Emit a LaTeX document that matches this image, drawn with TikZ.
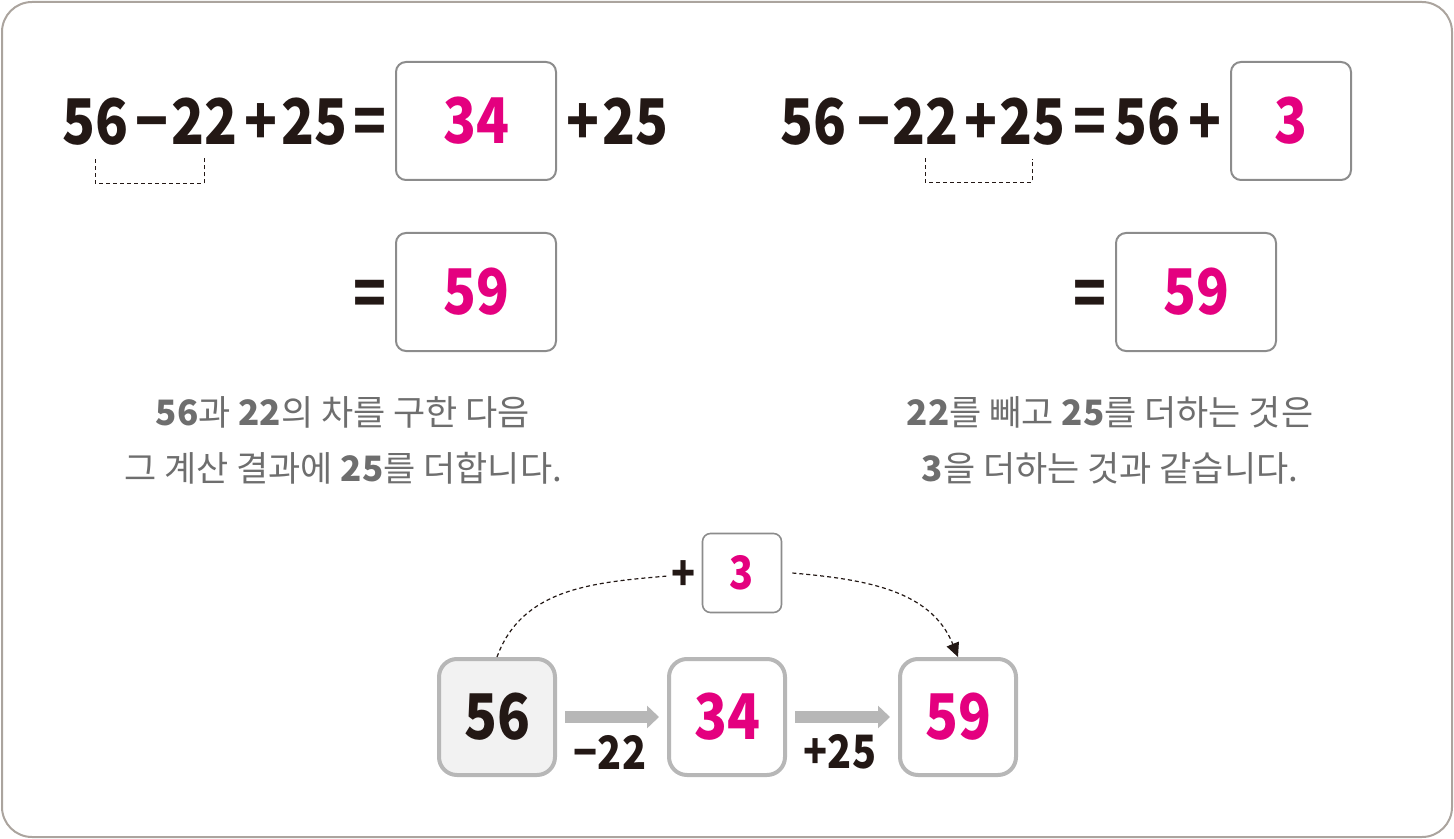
\documentclass[tikz,border=0pt]{standalone}
\usepackage{fontspec}
\setmainfont{Noto Sans CJK KR}
\newfontfamily\numfont[FakeStretch=0.86]{Noto Sans CJK KR}
\usetikzlibrary{arrows.meta,calc}
\definecolor{ink}{HTML}{231815}
\definecolor{pink}{HTML}{E4007F}
\definecolor{note}{HTML}{6E6E6E}
\definecolor{frame}{HTML}{ABA49E}
\definecolor{boxline}{HTML}{8C8C8C}
\definecolor{flowline}{HTML}{B7B7B7}
\definecolor{flowfill}{HTML}{F2F2F2}
\newcommand{\bignum}{\fontsize{31.5}{31.5}\selectfont\numfont\bfseries}
\newcommand{\midnum}{\fontsize{23}{23}\selectfont\numfont\bfseries}
\newcommand{\notefont}{\fontsize{17.5}{28}\selectfont}
\begin{document}
\begin{tikzpicture}[x=0.5pt, y=-0.5pt,
    tok/.style={font=\bignum, text=ink, inner sep=0pt, anchor=base},
    ans/.style={draw=boxline, line width=1pt, rounded corners=5pt, minimum width=80pt, minimum height=59pt, font=\bignum, text=pink, inner sep=0pt},
    bracket/.style={draw=ink, line width=0.5pt, dash pattern=on 2pt off 1.5pt},
    notetext/.style={font=\notefont, text=note, align=center},
    flow/.style={draw=flowline, line width=2pt, rounded corners=9pt, minimum size=58pt, font=\bignum, fill=white, inner sep=0pt},
    flowarrow/.style={draw=flowline, line width=6pt, -{Triangle[width=11pt,length=6pt]}},
    lab/.style={font=\midnum, text=ink, inner sep=0pt},
    hop/.style={draw=ink, line width=0.6pt, dash pattern=on 2pt off 1.5pt}]

    \useasboundingbox (0,0) rectangle (1454,839);
    \draw[frame, line width=1pt, rounded corners=15pt] (2,2) rectangle (1452,837);

    % left equation
    \node[tok] at (95, 145)  (l56)   {56};
    \node[tok] at (152, 145) (lmin)  {−};
    \node[tok] at (204, 145) (l22)   {22};
    \node[tok] at (261, 145) (lplus) {+};
    \node[tok] at (314, 145) (l25)   {25};
    \node[tok] at (370, 145) (leq)   {=};
    \node[ans] at (476, 121) (lans)  {34};
    \node[tok] at (583, 145) (lplusb) {+};
    \node[tok] at (635, 145) (l25b)  {25};

    \draw[bracket] ($(l56.south)+(0,13)$) -- ++(0,24) -| ($(l22.south)+(0,13)$);

    \node[tok] at (370, 316) (leqb)  {=};
    \node[ans] at (476, 292) (lres)  {59};

    \node[notetext] at (343, 440) (lnote)
        {\textbf{56}과 \textbf{22}의 차를 구한 다음\\그 계산 결과에 \textbf{25}를 더합니다.};

    % right equation
    \node[tok] at (813, 145)  (r56)   {56};
    \node[tok] at (874, 145)  (rmin)  {−};
    \node[tok] at (925, 145)  (r22)   {22};
    \node[tok] at (981, 145)  (rplus) {+};
    \node[tok] at (1032, 145) (r25)   {25};
    \node[tok] at (1090, 145) (req)   {=};
    \node[tok] at (1147, 145) (r56b)  {56};
    \node[tok] at (1205, 145) (rplusb) {+};
    \node[ans, minimum width=60pt] at (1291, 121) (rans) {3};

    \draw[bracket] ($(r22.south)+(0,13)$) -- ++(0,24) -| ($(r25.south)+(0,13)$);

    \node[tok] at (1090, 316) (reqb) {=};
    \node[ans] at (1196, 292) (rres) {59};

    \node[notetext] at (1110, 440) (rnote)
        {\textbf{22}를 빼고 \textbf{25}를 더하는 것은\\\textbf{3}을 더하는 것과 같습니다.};

    % number line
    \node[flow, fill=flowfill, text=ink] at (497, 717) (f56) {56};
    \node[flow, text=pink] at (727, 717) (f34) {34};
    \node[flow, text=pink] at (958, 717) (f59) {59};

    \draw[flowarrow] ([xshift=4pt]f56.east) -- ([xshift=-4pt]f34.west);
    \draw[flowarrow] ([xshift=4pt]f34.east) -- ([xshift=-4pt]f59.west);

    \node[lab] at (610, 752) (m22) {−22};
    \node[lab] at (840, 752) (p25) {+25};

    \node[draw=boxline, line width=0.8pt, rounded corners=4pt, minimum size=39.5pt, inner sep=0pt, font=\midnum, text=pink] at (742, 573) (s3) {3};
    \node[lab] at (684, 576) (splus) {+};

    \draw[hop] (f56.north) to[out=70, in=185] ([xshift=-2pt]splus.west);
    \draw[hop, -{Triangle[length=7pt,width=6.5pt]}] ([xshift=5pt]s3.east) to[out=-5, in=112] (f59.north);

\end{tikzpicture}
\end{document}
